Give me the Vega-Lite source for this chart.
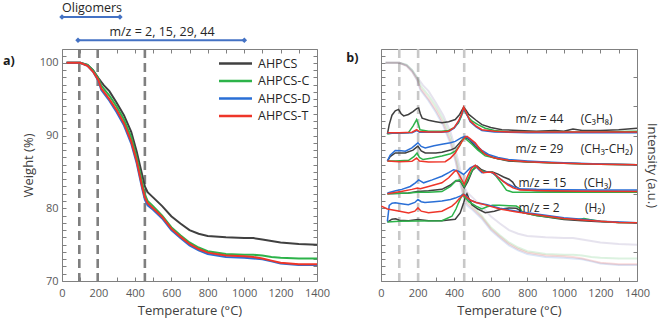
{
"$schema":"https://vega.github.io/schema/vega-lite/v6.json",
"padding":{"left":2,"top":1,"right":4,"bottom":4},
"bounds":"flush",
"spacing":64,
"config":{"font":"Open Sans","view":{"stroke":"#808080","strokeWidth":1},
"axis":{"grid":false,"domainColor":"#808080","tickColor":"#808080","labelColor":"#595959","titleColor":"#404040","labelFontSize":11,"titleFontSize":13,"titleFontWeight":"normal","labelFont":"Open Sans","titleFont":"Open Sans"}},
"resolve":{"scale":{"color":"independent"},"legend":{"color":"independent"}},
"datasets":{
"tga":[
{"s":"AHPCS","T":25,"w":100},{"s":"AHPCS","T":100,"w":100},{"s":"AHPCS","T":140,"w":99.7},{"s":"AHPCS","T":170,"w":99.0},{"s":"AHPCS","T":200,"w":97.9},{"s":"AHPCS","T":215,"w":97.4},{"s":"AHPCS","T":230,"w":96.9},{"s":"AHPCS","T":260,"w":96.1},{"s":"AHPCS","T":300,"w":94.5},{"s":"AHPCS","T":340,"w":92.8},{"s":"AHPCS","T":380,"w":90.5},{"s":"AHPCS","T":410,"w":87.8},{"s":"AHPCS","T":440,"w":84.6},{"s":"AHPCS","T":455,"w":83.0},{"s":"AHPCS","T":470,"w":82.2},{"s":"AHPCS","T":500,"w":81.5},{"s":"AHPCS","T":550,"w":80.3},{"s":"AHPCS","T":600,"w":78.9},{"s":"AHPCS","T":650,"w":77.9},{"s":"AHPCS","T":700,"w":77.0},{"s":"AHPCS","T":750,"w":76.5},{"s":"AHPCS","T":800,"w":76.2},{"s":"AHPCS","T":900,"w":76.0},{"s":"AHPCS","T":1000,"w":75.9},{"s":"AHPCS","T":1050,"w":75.9},{"s":"AHPCS","T":1100,"w":75.7},{"s":"AHPCS","T":1150,"w":75.5},{"s":"AHPCS","T":1200,"w":75.3},{"s":"AHPCS","T":1300,"w":75.1},{"s":"AHPCS","T":1400,"w":75.0},
{"s":"AHPCS-C","T":25,"w":100},{"s":"AHPCS-C","T":100,"w":100},{"s":"AHPCS-C","T":140,"w":99.7},{"s":"AHPCS-C","T":170,"w":99.0},{"s":"AHPCS-C","T":200,"w":97.8},{"s":"AHPCS-C","T":215,"w":96.9},{"s":"AHPCS-C","T":230,"w":96.4},{"s":"AHPCS-C","T":260,"w":95.5},{"s":"AHPCS-C","T":300,"w":94.0},{"s":"AHPCS-C","T":340,"w":92.2},{"s":"AHPCS-C","T":380,"w":89.8},{"s":"AHPCS-C","T":410,"w":87.0},{"s":"AHPCS-C","T":440,"w":83.6},{"s":"AHPCS-C","T":455,"w":81.9},{"s":"AHPCS-C","T":470,"w":81.0},{"s":"AHPCS-C","T":500,"w":80.3},{"s":"AHPCS-C","T":550,"w":79.0},{"s":"AHPCS-C","T":600,"w":77.4},{"s":"AHPCS-C","T":650,"w":76.3},{"s":"AHPCS-C","T":700,"w":75.3},{"s":"AHPCS-C","T":750,"w":74.6},{"s":"AHPCS-C","T":800,"w":74.1},{"s":"AHPCS-C","T":900,"w":73.7},{"s":"AHPCS-C","T":1000,"w":73.6},{"s":"AHPCS-C","T":1050,"w":73.6},{"s":"AHPCS-C","T":1100,"w":73.5},{"s":"AHPCS-C","T":1150,"w":73.3},{"s":"AHPCS-C","T":1200,"w":73.2},{"s":"AHPCS-C","T":1300,"w":73.1},{"s":"AHPCS-C","T":1400,"w":73.1},
{"s":"AHPCS-D","T":25,"w":100},{"s":"AHPCS-D","T":100,"w":100},{"s":"AHPCS-D","T":140,"w":99.6},{"s":"AHPCS-D","T":170,"w":98.8},{"s":"AHPCS-D","T":200,"w":97.5},{"s":"AHPCS-D","T":215,"w":96.3},{"s":"AHPCS-D","T":230,"w":95.8},{"s":"AHPCS-D","T":260,"w":94.8},{"s":"AHPCS-D","T":300,"w":93.2},{"s":"AHPCS-D","T":340,"w":91.4},{"s":"AHPCS-D","T":380,"w":88.9},{"s":"AHPCS-D","T":410,"w":86.2},{"s":"AHPCS-D","T":440,"w":82.7},{"s":"AHPCS-D","T":455,"w":81.2},{"s":"AHPCS-D","T":470,"w":80.4},{"s":"AHPCS-D","T":500,"w":79.8},{"s":"AHPCS-D","T":550,"w":78.6},{"s":"AHPCS-D","T":600,"w":77.0},{"s":"AHPCS-D","T":650,"w":75.9},{"s":"AHPCS-D","T":700,"w":74.9},{"s":"AHPCS-D","T":750,"w":74.2},{"s":"AHPCS-D","T":800,"w":73.7},{"s":"AHPCS-D","T":900,"w":73.3},{"s":"AHPCS-D","T":1000,"w":73.2},{"s":"AHPCS-D","T":1050,"w":73.1},{"s":"AHPCS-D","T":1100,"w":73.0},{"s":"AHPCS-D","T":1150,"w":72.7},{"s":"AHPCS-D","T":1200,"w":72.4},{"s":"AHPCS-D","T":1300,"w":72.2},{"s":"AHPCS-D","T":1400,"w":72.2},
{"s":"AHPCS-T","T":25,"w":100},{"s":"AHPCS-T","T":100,"w":100},{"s":"AHPCS-T","T":140,"w":99.6},{"s":"AHPCS-T","T":170,"w":98.8},{"s":"AHPCS-T","T":200,"w":97.6},{"s":"AHPCS-T","T":215,"w":96.5},{"s":"AHPCS-T","T":230,"w":96.0},{"s":"AHPCS-T","T":260,"w":95.0},{"s":"AHPCS-T","T":300,"w":93.5},{"s":"AHPCS-T","T":340,"w":91.7},{"s":"AHPCS-T","T":380,"w":89.2},{"s":"AHPCS-T","T":410,"w":86.5},{"s":"AHPCS-T","T":440,"w":83.0},{"s":"AHPCS-T","T":455,"w":81.5},{"s":"AHPCS-T","T":470,"w":80.7},{"s":"AHPCS-T","T":500,"w":80.0},{"s":"AHPCS-T","T":550,"w":78.8},{"s":"AHPCS-T","T":600,"w":77.2},{"s":"AHPCS-T","T":650,"w":76.1},{"s":"AHPCS-T","T":700,"w":75.1},{"s":"AHPCS-T","T":750,"w":74.4},{"s":"AHPCS-T","T":800,"w":73.9},{"s":"AHPCS-T","T":900,"w":73.5},{"s":"AHPCS-T","T":1000,"w":73.4},{"s":"AHPCS-T","T":1050,"w":73.3},{"s":"AHPCS-T","T":1100,"w":73.1},{"s":"AHPCS-T","T":1150,"w":72.8},{"s":"AHPCS-T","T":1200,"w":72.5},{"s":"AHPCS-T","T":1300,"w":72.3},{"s":"AHPCS-T","T":1400,"w":72.3}
],
"ms":[
{"s":"AHPCS","mz":"44","T":35,"v":90.2},{"s":"AHPCS","mz":"44","T":45,"v":91.5},{"s":"AHPCS","mz":"44","T":60,"v":92.8},{"s":"AHPCS","mz":"44","T":78,"v":93.4},{"s":"AHPCS","mz":"44","T":96,"v":93.6},{"s":"AHPCS","mz":"44","T":110,"v":93.0},{"s":"AHPCS","mz":"44","T":124,"v":92.7},{"s":"AHPCS","mz":"44","T":150,"v":92.9},{"s":"AHPCS","mz":"44","T":175,"v":93.3},{"s":"AHPCS","mz":"44","T":195,"v":93.7},{"s":"AHPCS","mz":"44","T":206,"v":93.8},{"s":"AHPCS","mz":"44","T":215,"v":93.0},{"s":"AHPCS","mz":"44","T":225,"v":92.4},{"s":"AHPCS","mz":"44","T":260,"v":92.1},{"s":"AHPCS","mz":"44","T":300,"v":91.9},{"s":"AHPCS","mz":"44","T":333,"v":91.75},{"s":"AHPCS","mz":"44","T":370,"v":91.9},{"s":"AHPCS","mz":"44","T":406,"v":92.2},{"s":"AHPCS","mz":"44","T":430,"v":92.9},{"s":"AHPCS","mz":"44","T":452,"v":93.9},{"s":"AHPCS","mz":"44","T":465,"v":93.5},{"s":"AHPCS","mz":"44","T":480,"v":92.9},{"s":"AHPCS","mz":"44","T":520,"v":92.1},{"s":"AHPCS","mz":"44","T":552,"v":91.5},{"s":"AHPCS","mz":"44","T":600,"v":91.1},{"s":"AHPCS","mz":"44","T":661,"v":90.8},{"s":"AHPCS","mz":"44","T":750,"v":90.7},{"s":"AHPCS","mz":"44","T":850,"v":90.6},{"s":"AHPCS","mz":"44","T":950,"v":90.7},{"s":"AHPCS","mz":"44","T":1000,"v":90.6},{"s":"AHPCS","mz":"44","T":1050,"v":90.9},{"s":"AHPCS","mz":"44","T":1100,"v":90.7},{"s":"AHPCS","mz":"44","T":1200,"v":90.7},{"s":"AHPCS","mz":"44","T":1300,"v":90.8},{"s":"AHPCS","mz":"44","T":1400,"v":91.0},
{"s":"AHPCS-C","mz":"44","T":35,"v":90.2},{"s":"AHPCS-C","mz":"44","T":60,"v":90.3},{"s":"AHPCS-C","mz":"44","T":100,"v":90.3},{"s":"AHPCS-C","mz":"44","T":150,"v":90.4},{"s":"AHPCS-C","mz":"44","T":175,"v":91.3},{"s":"AHPCS-C","mz":"44","T":195,"v":92.2},{"s":"AHPCS-C","mz":"44","T":205,"v":91.5},{"s":"AHPCS-C","mz":"44","T":213,"v":90.8},{"s":"AHPCS-C","mz":"44","T":260,"v":90.6},{"s":"AHPCS-C","mz":"44","T":330,"v":90.6},{"s":"AHPCS-C","mz":"44","T":370,"v":90.7},{"s":"AHPCS-C","mz":"44","T":400,"v":91.1},{"s":"AHPCS-C","mz":"44","T":424,"v":91.75},{"s":"AHPCS-C","mz":"44","T":440,"v":92.7},{"s":"AHPCS-C","mz":"44","T":452,"v":93.7},{"s":"AHPCS-C","mz":"44","T":465,"v":93.0},{"s":"AHPCS-C","mz":"44","T":480,"v":92.5},{"s":"AHPCS-C","mz":"44","T":497,"v":92.0},{"s":"AHPCS-C","mz":"44","T":530,"v":91.5},{"s":"AHPCS-C","mz":"44","T":570,"v":91.0},{"s":"AHPCS-C","mz":"44","T":620,"v":90.7},{"s":"AHPCS-C","mz":"44","T":700,"v":90.5},{"s":"AHPCS-C","mz":"44","T":800,"v":90.5},{"s":"AHPCS-C","mz":"44","T":1000,"v":90.5},{"s":"AHPCS-C","mz":"44","T":1200,"v":90.5},{"s":"AHPCS-C","mz":"44","T":1400,"v":90.6},
{"s":"AHPCS-D","mz":"44","T":35,"v":90.3},{"s":"AHPCS-D","mz":"44","T":100,"v":90.35},{"s":"AHPCS-D","mz":"44","T":170,"v":90.4},{"s":"AHPCS-D","mz":"44","T":195,"v":90.7},{"s":"AHPCS-D","mz":"44","T":210,"v":90.45},{"s":"AHPCS-D","mz":"44","T":330,"v":90.45},{"s":"AHPCS-D","mz":"44","T":370,"v":90.55},{"s":"AHPCS-D","mz":"44","T":400,"v":91.0},{"s":"AHPCS-D","mz":"44","T":424,"v":91.9},{"s":"AHPCS-D","mz":"44","T":440,"v":92.8},{"s":"AHPCS-D","mz":"44","T":452,"v":93.7},{"s":"AHPCS-D","mz":"44","T":465,"v":93.1},{"s":"AHPCS-D","mz":"44","T":488,"v":91.9},{"s":"AHPCS-D","mz":"44","T":520,"v":91.2},{"s":"AHPCS-D","mz":"44","T":552,"v":90.7},{"s":"AHPCS-D","mz":"44","T":620,"v":90.5},{"s":"AHPCS-D","mz":"44","T":800,"v":90.4},{"s":"AHPCS-D","mz":"44","T":1100,"v":90.4},{"s":"AHPCS-D","mz":"44","T":1400,"v":90.4},
{"s":"AHPCS-T","mz":"44","T":35,"v":90.4},{"s":"AHPCS-T","mz":"44","T":100,"v":90.4},{"s":"AHPCS-T","mz":"44","T":170,"v":90.45},{"s":"AHPCS-T","mz":"44","T":195,"v":90.8},{"s":"AHPCS-T","mz":"44","T":210,"v":90.55},{"s":"AHPCS-T","mz":"44","T":260,"v":90.5},{"s":"AHPCS-T","mz":"44","T":330,"v":90.5},{"s":"AHPCS-T","mz":"44","T":370,"v":90.6},{"s":"AHPCS-T","mz":"44","T":400,"v":91.1},{"s":"AHPCS-T","mz":"44","T":424,"v":92.0},{"s":"AHPCS-T","mz":"44","T":440,"v":92.9},{"s":"AHPCS-T","mz":"44","T":452,"v":93.9},{"s":"AHPCS-T","mz":"44","T":465,"v":93.2},{"s":"AHPCS-T","mz":"44","T":488,"v":92.0},{"s":"AHPCS-T","mz":"44","T":520,"v":91.3},{"s":"AHPCS-T","mz":"44","T":552,"v":90.8},{"s":"AHPCS-T","mz":"44","T":620,"v":90.6},{"s":"AHPCS-T","mz":"44","T":700,"v":90.5},{"s":"AHPCS-T","mz":"44","T":900,"v":90.5},{"s":"AHPCS-T","mz":"44","T":1100,"v":90.5},{"s":"AHPCS-T","mz":"44","T":1400,"v":90.5},
{"s":"AHPCS","mz":"29","T":35,"v":86.5},{"s":"AHPCS","mz":"29","T":50,"v":87.1},{"s":"AHPCS","mz":"29","T":78,"v":87.6},{"s":"AHPCS","mz":"29","T":133,"v":87.6},{"s":"AHPCS","mz":"29","T":175,"v":88.0},{"s":"AHPCS","mz":"29","T":202,"v":88.55},{"s":"AHPCS","mz":"29","T":220,"v":87.9},{"s":"AHPCS","mz":"29","T":242,"v":87.6},{"s":"AHPCS","mz":"29","T":300,"v":87.6},{"s":"AHPCS","mz":"29","T":333,"v":87.7},{"s":"AHPCS","mz":"29","T":380,"v":88.0},{"s":"AHPCS","mz":"29","T":406,"v":88.3},{"s":"AHPCS","mz":"29","T":440,"v":89.3},{"s":"AHPCS","mz":"29","T":460,"v":89.8},{"s":"AHPCS","mz":"29","T":485,"v":89.4},{"s":"AHPCS","mz":"29","T":515,"v":88.55},{"s":"AHPCS","mz":"29","T":550,"v":87.8},{"s":"AHPCS","mz":"29","T":588,"v":87.2},{"s":"AHPCS","mz":"29","T":640,"v":86.8},{"s":"AHPCS","mz":"29","T":697,"v":86.5},{"s":"AHPCS","mz":"29","T":800,"v":86.35},{"s":"AHPCS","mz":"29","T":1000,"v":86.2},{"s":"AHPCS","mz":"29","T":1200,"v":86.05},{"s":"AHPCS","mz":"29","T":1400,"v":86.0},
{"s":"AHPCS-C","mz":"29","T":35,"v":86.5},{"s":"AHPCS-C","mz":"29","T":80,"v":86.5},{"s":"AHPCS-C","mz":"29","T":151,"v":86.6},{"s":"AHPCS-C","mz":"29","T":180,"v":87.1},{"s":"AHPCS-C","mz":"29","T":197,"v":87.6},{"s":"AHPCS-C","mz":"29","T":210,"v":87.0},{"s":"AHPCS-C","mz":"29","T":230,"v":86.7},{"s":"AHPCS-C","mz":"29","T":280,"v":86.9},{"s":"AHPCS-C","mz":"29","T":333,"v":87.2},{"s":"AHPCS-C","mz":"29","T":380,"v":87.5},{"s":"AHPCS-C","mz":"29","T":406,"v":87.85},{"s":"AHPCS-C","mz":"29","T":430,"v":88.6},{"s":"AHPCS-C","mz":"29","T":452,"v":89.7},{"s":"AHPCS-C","mz":"29","T":470,"v":89.4},{"s":"AHPCS-C","mz":"29","T":497,"v":88.8},{"s":"AHPCS-C","mz":"29","T":530,"v":88.0},{"s":"AHPCS-C","mz":"29","T":570,"v":87.2},{"s":"AHPCS-C","mz":"29","T":640,"v":86.8},{"s":"AHPCS-C","mz":"29","T":697,"v":86.6},{"s":"AHPCS-C","mz":"29","T":800,"v":86.4},{"s":"AHPCS-C","mz":"29","T":1000,"v":86.2},{"s":"AHPCS-C","mz":"29","T":1200,"v":86.05},{"s":"AHPCS-C","mz":"29","T":1400,"v":86.0},
{"s":"AHPCS-D","mz":"29","T":35,"v":86.5},{"s":"AHPCS-D","mz":"29","T":50,"v":87.3},{"s":"AHPCS-D","mz":"29","T":78,"v":87.95},{"s":"AHPCS-D","mz":"29","T":110,"v":87.9},{"s":"AHPCS-D","mz":"29","T":133,"v":87.85},{"s":"AHPCS-D","mz":"29","T":169,"v":88.3},{"s":"AHPCS-D","mz":"29","T":202,"v":89.0},{"s":"AHPCS-D","mz":"29","T":220,"v":88.5},{"s":"AHPCS-D","mz":"29","T":242,"v":88.3},{"s":"AHPCS-D","mz":"29","T":290,"v":88.6},{"s":"AHPCS-D","mz":"29","T":333,"v":88.8},{"s":"AHPCS-D","mz":"29","T":380,"v":89.0},{"s":"AHPCS-D","mz":"29","T":406,"v":89.2},{"s":"AHPCS-D","mz":"29","T":440,"v":89.7},{"s":"AHPCS-D","mz":"29","T":460,"v":89.9},{"s":"AHPCS-D","mz":"29","T":485,"v":89.5},{"s":"AHPCS-D","mz":"29","T":515,"v":88.8},{"s":"AHPCS-D","mz":"29","T":550,"v":88.0},{"s":"AHPCS-D","mz":"29","T":588,"v":87.4},{"s":"AHPCS-D","mz":"29","T":640,"v":87.0},{"s":"AHPCS-D","mz":"29","T":697,"v":86.7},{"s":"AHPCS-D","mz":"29","T":800,"v":86.5},{"s":"AHPCS-D","mz":"29","T":900,"v":86.35},{"s":"AHPCS-D","mz":"29","T":1000,"v":86.25},{"s":"AHPCS-D","mz":"29","T":1200,"v":86.1},{"s":"AHPCS-D","mz":"29","T":1400,"v":86.0},
{"s":"AHPCS-T","mz":"29","T":35,"v":86.5},{"s":"AHPCS-T","mz":"29","T":100,"v":86.4},{"s":"AHPCS-T","mz":"29","T":169,"v":86.45},{"s":"AHPCS-T","mz":"29","T":195,"v":86.9},{"s":"AHPCS-T","mz":"29","T":210,"v":86.5},{"s":"AHPCS-T","mz":"29","T":260,"v":86.35},{"s":"AHPCS-T","mz":"29","T":351,"v":86.4},{"s":"AHPCS-T","mz":"29","T":380,"v":86.9},{"s":"AHPCS-T","mz":"29","T":406,"v":87.6},{"s":"AHPCS-T","mz":"29","T":425,"v":88.4},{"s":"AHPCS-T","mz":"29","T":443,"v":89.2},{"s":"AHPCS-T","mz":"29","T":460,"v":89.8},{"s":"AHPCS-T","mz":"29","T":470,"v":89.9},{"s":"AHPCS-T","mz":"29","T":485,"v":89.6},{"s":"AHPCS-T","mz":"29","T":515,"v":89.0},{"s":"AHPCS-T","mz":"29","T":540,"v":88.2},{"s":"AHPCS-T","mz":"29","T":570,"v":87.4},{"s":"AHPCS-T","mz":"29","T":620,"v":86.9},{"s":"AHPCS-T","mz":"29","T":697,"v":86.6},{"s":"AHPCS-T","mz":"29","T":800,"v":86.4},{"s":"AHPCS-T","mz":"29","T":1000,"v":86.2},{"s":"AHPCS-T","mz":"29","T":1200,"v":86.05},{"s":"AHPCS-T","mz":"29","T":1400,"v":86.0},
{"s":"AHPCS","mz":"15","T":35,"v":82.0},{"s":"AHPCS","mz":"15","T":150,"v":82.1},{"s":"AHPCS","mz":"15","T":200,"v":82.3},{"s":"AHPCS","mz":"15","T":260,"v":82.4},{"s":"AHPCS","mz":"15","T":333,"v":82.6},{"s":"AHPCS","mz":"15","T":380,"v":83.2},{"s":"AHPCS","mz":"15","T":410,"v":83.8},{"s":"AHPCS","mz":"15","T":435,"v":83.7},{"s":"AHPCS","mz":"15","T":455,"v":82.8},{"s":"AHPCS","mz":"15","T":475,"v":83.7},{"s":"AHPCS","mz":"15","T":500,"v":85.2},{"s":"AHPCS","mz":"15","T":525,"v":85.8},{"s":"AHPCS","mz":"15","T":550,"v":85.3},{"s":"AHPCS","mz":"15","T":580,"v":85.0},{"s":"AHPCS","mz":"15","T":610,"v":85.0},{"s":"AHPCS","mz":"15","T":640,"v":84.7},{"s":"AHPCS","mz":"15","T":670,"v":84.3},{"s":"AHPCS","mz":"15","T":700,"v":84.0},{"s":"AHPCS","mz":"15","T":720,"v":83.6},{"s":"AHPCS","mz":"15","T":735,"v":83.0},{"s":"AHPCS","mz":"15","T":760,"v":82.6},{"s":"AHPCS","mz":"15","T":850,"v":82.4},{"s":"AHPCS","mz":"15","T":1000,"v":82.35},{"s":"AHPCS","mz":"15","T":1400,"v":82.3},
{"s":"AHPCS-C","mz":"15","T":35,"v":82.0},{"s":"AHPCS-C","mz":"15","T":150,"v":82.1},{"s":"AHPCS-C","mz":"15","T":200,"v":82.2},{"s":"AHPCS-C","mz":"15","T":260,"v":82.2},{"s":"AHPCS-C","mz":"15","T":333,"v":82.3},{"s":"AHPCS-C","mz":"15","T":380,"v":83.0},{"s":"AHPCS-C","mz":"15","T":410,"v":83.8},{"s":"AHPCS-C","mz":"15","T":430,"v":83.9},{"s":"AHPCS-C","mz":"15","T":455,"v":83.0},{"s":"AHPCS-C","mz":"15","T":475,"v":84.0},{"s":"AHPCS-C","mz":"15","T":500,"v":85.3},{"s":"AHPCS-C","mz":"15","T":520,"v":85.7},{"s":"AHPCS-C","mz":"15","T":545,"v":85.2},{"s":"AHPCS-C","mz":"15","T":575,"v":85.0},{"s":"AHPCS-C","mz":"15","T":605,"v":85.0},{"s":"AHPCS-C","mz":"15","T":630,"v":84.4},{"s":"AHPCS-C","mz":"15","T":660,"v":83.4},{"s":"AHPCS-C","mz":"15","T":686,"v":82.5},{"s":"AHPCS-C","mz":"15","T":720,"v":82.2},{"s":"AHPCS-C","mz":"15","T":1000,"v":82.2},{"s":"AHPCS-C","mz":"15","T":1400,"v":82.2},
{"s":"AHPCS-D","mz":"15","T":35,"v":82.1},{"s":"AHPCS-D","mz":"15","T":80,"v":82.4},{"s":"AHPCS-D","mz":"15","T":114,"v":82.6},{"s":"AHPCS-D","mz":"15","T":160,"v":83.0},{"s":"AHPCS-D","mz":"15","T":188,"v":83.5},{"s":"AHPCS-D","mz":"15","T":206,"v":83.9},{"s":"AHPCS-D","mz":"15","T":233,"v":83.5},{"s":"AHPCS-D","mz":"15","T":280,"v":83.9},{"s":"AHPCS-D","mz":"15","T":333,"v":84.4},{"s":"AHPCS-D","mz":"15","T":370,"v":84.9},{"s":"AHPCS-D","mz":"15","T":397,"v":85.3},{"s":"AHPCS-D","mz":"15","T":424,"v":85.1},{"s":"AHPCS-D","mz":"15","T":452,"v":84.65},{"s":"AHPCS-D","mz":"15","T":470,"v":85.1},{"s":"AHPCS-D","mz":"15","T":488,"v":85.55},{"s":"AHPCS-D","mz":"15","T":515,"v":85.9},{"s":"AHPCS-D","mz":"15","T":535,"v":85.3},{"s":"AHPCS-D","mz":"15","T":552,"v":84.9},{"s":"AHPCS-D","mz":"15","T":575,"v":85.0},{"s":"AHPCS-D","mz":"15","T":597,"v":85.0},{"s":"AHPCS-D","mz":"15","T":620,"v":84.7},{"s":"AHPCS-D","mz":"15","T":643,"v":84.2},{"s":"AHPCS-D","mz":"15","T":670,"v":83.7},{"s":"AHPCS-D","mz":"15","T":697,"v":83.3},{"s":"AHPCS-D","mz":"15","T":730,"v":82.9},{"s":"AHPCS-D","mz":"15","T":760,"v":82.7},{"s":"AHPCS-D","mz":"15","T":850,"v":82.6},{"s":"AHPCS-D","mz":"15","T":1000,"v":82.55},{"s":"AHPCS-D","mz":"15","T":1200,"v":82.5},{"s":"AHPCS-D","mz":"15","T":1400,"v":82.5},
{"s":"AHPCS-T","mz":"15","T":35,"v":82.0},{"s":"AHPCS-T","mz":"15","T":110,"v":82.3},{"s":"AHPCS-T","mz":"15","T":169,"v":82.6},{"s":"AHPCS-T","mz":"15","T":200,"v":82.8},{"s":"AHPCS-T","mz":"15","T":215,"v":82.7},{"s":"AHPCS-T","mz":"15","T":260,"v":83.0},{"s":"AHPCS-T","mz":"15","T":333,"v":83.5},{"s":"AHPCS-T","mz":"15","T":370,"v":84.2},{"s":"AHPCS-T","mz":"15","T":400,"v":85.0},{"s":"AHPCS-T","mz":"15","T":412,"v":85.2},{"s":"AHPCS-T","mz":"15","T":430,"v":84.5},{"s":"AHPCS-T","mz":"15","T":455,"v":83.3},{"s":"AHPCS-T","mz":"15","T":475,"v":84.5},{"s":"AHPCS-T","mz":"15","T":495,"v":85.5},{"s":"AHPCS-T","mz":"15","T":516,"v":85.9},{"s":"AHPCS-T","mz":"15","T":540,"v":85.3},{"s":"AHPCS-T","mz":"15","T":560,"v":84.9},{"s":"AHPCS-T","mz":"15","T":590,"v":85.0},{"s":"AHPCS-T","mz":"15","T":614,"v":84.9},{"s":"AHPCS-T","mz":"15","T":640,"v":84.3},{"s":"AHPCS-T","mz":"15","T":668,"v":83.7},{"s":"AHPCS-T","mz":"15","T":695,"v":83.2},{"s":"AHPCS-T","mz":"15","T":722,"v":82.8},{"s":"AHPCS-T","mz":"15","T":760,"v":82.5},{"s":"AHPCS-T","mz":"15","T":900,"v":82.4},{"s":"AHPCS-T","mz":"15","T":1100,"v":82.35},{"s":"AHPCS-T","mz":"15","T":1400,"v":82.3},
{"s":"AHPCS","mz":"2","T":35,"v":78.1},{"s":"AHPCS","mz":"2","T":60,"v":78.5},{"s":"AHPCS","mz":"2","T":80,"v":78.55},{"s":"AHPCS","mz":"2","T":100,"v":78.35},{"s":"AHPCS","mz":"2","T":150,"v":78.3},{"s":"AHPCS","mz":"2","T":202,"v":78.45},{"s":"AHPCS","mz":"2","T":260,"v":78.3},{"s":"AHPCS","mz":"2","T":333,"v":78.3},{"s":"AHPCS","mz":"2","T":406,"v":78.5},{"s":"AHPCS","mz":"2","T":433,"v":79.35},{"s":"AHPCS","mz":"2","T":452,"v":80.75},{"s":"AHPCS","mz":"2","T":462,"v":81.6},{"s":"AHPCS","mz":"2","T":470,"v":82.0},{"s":"AHPCS","mz":"2","T":480,"v":81.4},{"s":"AHPCS","mz":"2","T":497,"v":80.5},{"s":"AHPCS","mz":"2","T":530,"v":79.9},{"s":"AHPCS","mz":"2","T":570,"v":79.4},{"s":"AHPCS","mz":"2","T":620,"v":79.6},{"s":"AHPCS","mz":"2","T":660,"v":79.9},{"s":"AHPCS","mz":"2","T":700,"v":80.05},{"s":"AHPCS","mz":"2","T":740,"v":80.0},{"s":"AHPCS","mz":"2","T":760,"v":79.7},{"s":"AHPCS","mz":"2","T":775,"v":79.4},{"s":"AHPCS","mz":"2","T":850,"v":79.0},{"s":"AHPCS","mz":"2","T":1000,"v":78.45},{"s":"AHPCS","mz":"2","T":1100,"v":78.3},{"s":"AHPCS","mz":"2","T":1200,"v":78.15},{"s":"AHPCS","mz":"2","T":1300,"v":78.05},{"s":"AHPCS","mz":"2","T":1400,"v":78.0},
{"s":"AHPCS-C","mz":"2","T":35,"v":78.1},{"s":"AHPCS-C","mz":"2","T":100,"v":78.2},{"s":"AHPCS-C","mz":"2","T":200,"v":78.25},{"s":"AHPCS-C","mz":"2","T":333,"v":78.3},{"s":"AHPCS-C","mz":"2","T":388,"v":78.9},{"s":"AHPCS-C","mz":"2","T":410,"v":79.9},{"s":"AHPCS-C","mz":"2","T":424,"v":80.75},{"s":"AHPCS-C","mz":"2","T":445,"v":81.9},{"s":"AHPCS-C","mz":"2","T":460,"v":81.5},{"s":"AHPCS-C","mz":"2","T":480,"v":80.9},{"s":"AHPCS-C","mz":"2","T":520,"v":80.3},{"s":"AHPCS-C","mz":"2","T":552,"v":79.9},{"s":"AHPCS-C","mz":"2","T":580,"v":80.2},{"s":"AHPCS-C","mz":"2","T":610,"v":80.4},{"s":"AHPCS-C","mz":"2","T":650,"v":80.4},{"s":"AHPCS-C","mz":"2","T":700,"v":80.35},{"s":"AHPCS-C","mz":"2","T":740,"v":80.3},{"s":"AHPCS-C","mz":"2","T":760,"v":80.0},{"s":"AHPCS-C","mz":"2","T":775,"v":79.4},{"s":"AHPCS-C","mz":"2","T":850,"v":79.0},{"s":"AHPCS-C","mz":"2","T":1000,"v":78.55},{"s":"AHPCS-C","mz":"2","T":1080,"v":78.45},{"s":"AHPCS-C","mz":"2","T":1110,"v":78.6},{"s":"AHPCS-C","mz":"2","T":1140,"v":78.45},{"s":"AHPCS-C","mz":"2","T":1200,"v":78.2},{"s":"AHPCS-C","mz":"2","T":1300,"v":78.05},{"s":"AHPCS-C","mz":"2","T":1400,"v":78.0},
{"s":"AHPCS-D","mz":"2","T":35,"v":78.2},{"s":"AHPCS-D","mz":"2","T":45,"v":80.4},{"s":"AHPCS-D","mz":"2","T":60,"v":80.7},{"s":"AHPCS-D","mz":"2","T":78,"v":80.75},{"s":"AHPCS-D","mz":"2","T":120,"v":80.6},{"s":"AHPCS-D","mz":"2","T":150,"v":80.5},{"s":"AHPCS-D","mz":"2","T":185,"v":80.8},{"s":"AHPCS-D","mz":"2","T":202,"v":81.2},{"s":"AHPCS-D","mz":"2","T":220,"v":80.9},{"s":"AHPCS-D","mz":"2","T":240,"v":80.8},{"s":"AHPCS-D","mz":"2","T":290,"v":80.9},{"s":"AHPCS-D","mz":"2","T":333,"v":81.0},{"s":"AHPCS-D","mz":"2","T":380,"v":81.2},{"s":"AHPCS-D","mz":"2","T":406,"v":81.4},{"s":"AHPCS-D","mz":"2","T":435,"v":81.7},{"s":"AHPCS-D","mz":"2","T":452,"v":81.9},{"s":"AHPCS-D","mz":"2","T":470,"v":81.6},{"s":"AHPCS-D","mz":"2","T":480,"v":81.2},{"s":"AHPCS-D","mz":"2","T":520,"v":80.8},{"s":"AHPCS-D","mz":"2","T":580,"v":80.5},{"s":"AHPCS-D","mz":"2","T":650,"v":80.0},{"s":"AHPCS-D","mz":"2","T":743,"v":79.6},{"s":"AHPCS-D","mz":"2","T":850,"v":79.2},{"s":"AHPCS-D","mz":"2","T":1000,"v":78.7},{"s":"AHPCS-D","mz":"2","T":1100,"v":78.5},{"s":"AHPCS-D","mz":"2","T":1200,"v":78.2},{"s":"AHPCS-D","mz":"2","T":1300,"v":78.1},{"s":"AHPCS-D","mz":"2","T":1400,"v":78.0},
{"s":"AHPCS-T","mz":"2","T":2,"v":80.3},{"s":"AHPCS-T","mz":"2","T":35,"v":79.9},{"s":"AHPCS-T","mz":"2","T":80,"v":79.7},{"s":"AHPCS-T","mz":"2","T":151,"v":79.35},{"s":"AHPCS-T","mz":"2","T":185,"v":79.6},{"s":"AHPCS-T","mz":"2","T":202,"v":80.05},{"s":"AHPCS-T","mz":"2","T":220,"v":79.6},{"s":"AHPCS-T","mz":"2","T":260,"v":79.4},{"s":"AHPCS-T","mz":"2","T":333,"v":79.6},{"s":"AHPCS-T","mz":"2","T":388,"v":80.3},{"s":"AHPCS-T","mz":"2","T":410,"v":80.8},{"s":"AHPCS-T","mz":"2","T":424,"v":81.2},{"s":"AHPCS-T","mz":"2","T":440,"v":81.6},{"s":"AHPCS-T","mz":"2","T":452,"v":81.9},{"s":"AHPCS-T","mz":"2","T":470,"v":81.5},{"s":"AHPCS-T","mz":"2","T":490,"v":81.1},{"s":"AHPCS-T","mz":"2","T":520,"v":80.8},{"s":"AHPCS-T","mz":"2","T":580,"v":80.4},{"s":"AHPCS-T","mz":"2","T":650,"v":79.9},{"s":"AHPCS-T","mz":"2","T":743,"v":79.5},{"s":"AHPCS-T","mz":"2","T":850,"v":79.1},{"s":"AHPCS-T","mz":"2","T":1000,"v":78.6},{"s":"AHPCS-T","mz":"2","T":1100,"v":78.4},{"s":"AHPCS-T","mz":"2","T":1200,"v":78.2},{"s":"AHPCS-T","mz":"2","T":1300,"v":78.05},{"s":"AHPCS-T","mz":"2","T":1400,"v":78.0}
],
"arrows":[{"id":"olig","T":0,"y":106.3},{"id":"olig","T":318,"y":106.3},{"id":"mz","T":88,"y":103.1},{"id":"mz","T":1001,"y":103.1}],
"arrowtext":[{"T":165,"y":107.5,"t":"Oligomers"},{"T":549,"y":104.25,"t":"m/z = 2, 15, 29, 44"}],
"mslab":[{"T":735,"y":92.25,"t":"m/z = 44","g":"(C₃H₈)","T2":1092},{"T":735,"y":88.1,"t":"m/z = 29","g":"(CH₃-CH₂)","T2":1092},{"T":752,"y":83.5,"t":"m/z = 15","g":"(CH₃)","T2":1110},{"T":752,"y":80.0,"t":"m/z = 2","g":"(H₂)","T2":1115}]
},
"hconcat":[
{"width":255,"height":232,
"resolve":{"axis":{"x":"independent","y":"independent"}},
"layer":[
{"data":{"values":[{"T":95},{"T":196},{"T":455}]},"mark":{"type":"rule","color":"#7f7f7f","strokeWidth":2.6,"strokeDash":[9,5]},
 "encoding":{"x":{"field":"T","type":"quantitative","scale":{"domain":[0,1400],"nice":false},"axis":null}}},
{"data":{"name":"tga"},"mark":{"type":"line","strokeWidth":2},
 "encoding":{
  "x":{"field":"T","type":"quantitative","scale":{"domain":[0,1400],"nice":false},"axis":{"orient":"bottom","title":"Temperature (°C)","format":"d","values":[0,100,200,300,400,500,600,700,800,900,1000,1100,1200,1300,1400],"labelExpr":"datum.value % 200 === 0 ? datum.label : ''","tickSize":-4,"labelPadding":10,"titlePadding":6,"labelFlush":false,"domain":false}},
  "y":{"field":"w","type":"quantitative","scale":{"domain":[70,101.9],"nice":false,"zero":false},"axis":{"orient":"left","title":"Weight (%)","values":[70,71,72,73,74,75,76,77,78,79,80,81,82,83,84,85,86,87,88,89,90,91,92,93,94,95,96,97,98,99,100,101],"labelExpr":"datum.value % 10 === 0 ? datum.label : ''","tickSize":-4,"labelPadding":8,"titlePadding":4,"domain":false}},
  "color":{"field":"s","type":"nominal","scale":{"domain":["AHPCS","AHPCS-C","AHPCS-D","AHPCS-T"],"range":["#404040","#2db34a","#2a6fd6","#ee3529"]},
   "legend":{"orient":"none","legendX":164,"legendY":5,"title":null,"symbolType":"M-2,0H2","symbolSize":272,"symbolStrokeWidth":2.5,"labelFontSize":12.5,"labelColor":"#262626","labelOffset":13,"rowPadding":1.5,"padding":0,"labelFont":"Open Sans"}}}},
{"data":{"name":"arrows"},"mark":{"type":"line","color":"#4472c4","strokeWidth":2},
 "encoding":{"x":{"field":"T","type":"quantitative","scale":{"domain":[0,1400],"nice":false},"axis":{"orient":"top","labels":false,"title":null,"values":[0,100,200,300,400,500,600,700,800,900,1000,1100,1200,1300,1400],"tickSize":-4,"domain":false}},
  "y":{"field":"y","type":"quantitative","scale":{"domain":[70,101.9],"nice":false,"zero":false},"axis":{"orient":"right","labels":false,"title":null,"values":[70,71,72,73,74,75,76,77,78,79,80,81,82,83,84,85,86,87,88,89,90,91,92,93,94,95,96,97,98,99,100,101],"tickSize":-4,"domain":false}},
  "detail":{"field":"id"}}},
{"data":{"name":"arrows"},"mark":{"type":"point","shape":"diamond","filled":true,"color":"#4472c4","size":30,"opacity":1},
 "encoding":{"x":{"field":"T","type":"quantitative","axis":null},"y":{"field":"y","type":"quantitative","axis":null}}},
{"data":{"name":"arrowtext"},"mark":{"type":"text","fontSize":12.5,"color":"#262626","align":"center","baseline":"middle"},
 "encoding":{"x":{"field":"T","type":"quantitative","axis":null},"y":{"field":"y","type":"quantitative","axis":null},"text":{"field":"t"}}},
{"data":{"values":[{"T":-324,"y":100.25,"t":"a)"}]},"mark":{"type":"text","fontSize":12.5,"fontWeight":"bold","color":"#1a1a1a","align":"left","baseline":"middle"},
 "encoding":{"x":{"field":"T","type":"quantitative","axis":null},"y":{"field":"y","type":"quantitative","axis":null},"text":{"field":"t"}}}
]},
{"width":256,"height":232,
"resolve":{"axis":{"x":"independent","y":"independent"},"scale":{"color":"independent"}},
"layer":[
{"data":{"values":[{"T":100},{"T":203},{"T":455}]},"mark":{"type":"rule","color":"#c8c8c8","strokeWidth":2.6,"strokeDash":[9,5]},
 "encoding":{"x":{"field":"T","type":"quantitative","scale":{"domain":[0,1400],"nice":false},"axis":null}}},
{"data":{"name":"tga"},"mark":{"type":"line","strokeWidth":2,"opacity":0.17},
 "encoding":{
  "x":{"field":"T","type":"quantitative","scale":{"domain":[0,1400],"nice":false},"axis":{"orient":"bottom","title":"Temperature (°C)","format":"d","values":[0,100,200,300,400,500,600,700,800,900,1000,1100,1200,1300,1400],"labelExpr":"datum.value % 200 === 0 ? datum.label : ''","tickSize":-4,"labelPadding":10,"titlePadding":6,"labelFlush":false,"domain":false}},
  "y":{"field":"w","type":"quantitative","scale":{"domain":[70,101.9],"nice":false,"zero":false},"axis":{"orient":"left","labels":false,"title":null,"values":[70,71,72,73,74,75,76,77,78,79,80,81,82,83,84,85,86,87,88,89,90,91,92,93,94,95,96,97,98,99,100,101],"tickSize":-4,"domain":false}},
  "color":{"field":"s","type":"nominal","scale":{"domain":["AHPCS","AHPCS-C","AHPCS-D","AHPCS-T"],"range":["#6a5a9a","#2db34a","#2a6fd6","#ee3529"]},"legend":null}}},
{"data":{"name":"ms"},"mark":{"type":"line","strokeWidth":1.5},
 "encoding":{
  "x":{"field":"T","type":"quantitative","scale":{"domain":[0,1400],"nice":false},"axis":{"orient":"top","labels":false,"title":null,"values":[0,100,200,300,400,500,600,700,800,900,1000,1100,1200,1300,1400],"tickSize":-4,"domain":false}},
  "y":{"field":"v","type":"quantitative","scale":{"domain":[70,101.9],"nice":false,"zero":false},"axis":{"orient":"right","labels":false,"title":"Intensity (a.u.)","values":[74,78,82,86,90,94,98],"tickSize":-4,"titlePadding":7,"domain":false}},
  "color":{"field":"s","type":"nominal","scale":{"domain":["AHPCS","AHPCS-C","AHPCS-D","AHPCS-T"],"range":["#404040","#2db34a","#2a6fd6","#ee3529"]},"legend":null},
  "detail":{"field":"mz"}}},
{"data":{"name":"mslab"},"mark":{"type":"text","fontSize":12,"color":"#262626","align":"left","baseline":"middle"},
 "encoding":{"x":{"field":"T","type":"quantitative","axis":null},"y":{"field":"y","type":"quantitative","axis":null},"text":{"field":"t"}}},
{"data":{"name":"mslab"},"mark":{"type":"text","fontSize":12,"color":"#262626","align":"left","baseline":"middle"},
 "encoding":{"x":{"field":"T2","type":"quantitative","axis":null},"y":{"field":"y","type":"quantitative","axis":null},"text":{"field":"g"}}},
{"data":{"values":[{"T":-190,"y":100.6,"t":"b)"}]},"mark":{"type":"text","fontSize":12.5,"fontWeight":"bold","color":"#1a1a1a","align":"left","baseline":"middle"},
 "encoding":{"x":{"field":"T","type":"quantitative","axis":null},"y":{"field":"y","type":"quantitative","axis":null},"text":{"field":"t"}}}
]}
]
}
